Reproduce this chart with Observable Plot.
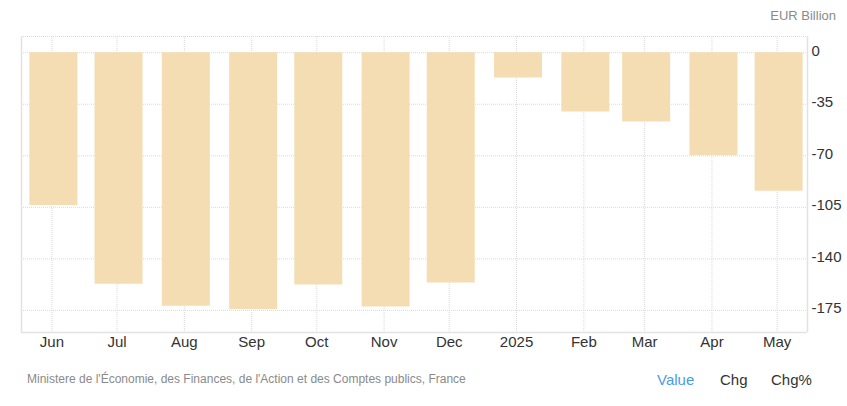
<!DOCTYPE html>
<html>
<head>
<meta charset="utf-8">
<script src="https://cdn.jsdelivr.net/npm/d3@7"></script>
<script src="https://cdn.jsdelivr.net/npm/@observablehq/plot@0.6"></script>
<style>
  html, body { margin: 0; padding: 0; background: #fff; }
  #wrap { position: relative; width: 847px; height: 406px; font-family: "Liberation Sans", Arial, sans-serif; overflow: hidden; }
  #chart { position: absolute; left: 0; top: 0; }
  .t { position: absolute; white-space: nowrap; line-height: 1; }
</style>
</head>
<body>
<div id="wrap">
  <div id="chart"></div>
  <div class="t" style="right:11px; top:9px; font-size:13px; color:#8a8a8a;">EUR Billion</div>
  <div class="t" style="left:27px; top:373px; font-size:12px; color:#8a8a8a;">Ministere de l'Économie, des Finances, de l'Action et des Comptes publics, France</div>
  <div class="t" style="left:657px; top:372px; font-size:15px; color:#4a9ce6;">Value</div>
  <div class="t" style="left:720px; top:372px; font-size:15px; color:#333;">Chg</div>
  <div class="t" style="left:771px; top:372px; font-size:15px; color:#333;">Chg%</div>
</div>
<script>
const months = ["2024-06-01","2024-07-01","2024-08-01","2024-09-01","2024-10-01","2024-11-01","2024-12-01","2025-01-01","2025-02-01","2025-03-01","2025-04-01","2025-05-01"];
const values = [-103.7, -157.3, -172.2, -174.3, -157.8, -172.7, -156.4, -17.2, -40.3, -47.1, -69.8, -94.0];
const yTicks = [0, -35, -70, -105, -140, -175];
const xDomain = ["2024-05-18", "2025-05-15"];
const yDomain = [-190, 11];

const dates = months.map(d => new Date(d + "T00:00:00Z"));
const data = dates.map((d, i) => ({date: d, value: values[i]}));
const xd = xDomain.map(d => new Date(d + "T00:00:00Z"));
const monthFmt = d3.utcFormat("%b");
const tickFmt = d => d.getUTCMonth() === 0 ? String(d.getUTCFullYear()) : monthFmt(d);

const grid = {stroke: "#d9d9d9", strokeOpacity: 1, strokeDasharray: "1,1"};
const plot = Plot.plot({
  width: 847,
  height: 360,
  marginTop: 36,
  marginBottom: 28,
  marginLeft: 21,
  marginRight: 40,
  style: {fontFamily: "Liberation Sans, Arial, sans-serif", background: "transparent"},
  x: {type: "utc", domain: xd, label: null},
  y: {domain: yDomain, label: null},
  marks: [
    Plot.gridY({ticks: yTicks, ...grid}),
    Plot.ruleY([yDomain[1]], {...grid}),
    Plot.gridX({ticks: dates, ...grid}),
    Plot.ruleX(data, {x: "date", y1: 0, y2: "value", stroke: "#f4ddb3", strokeWidth: 48, dx: 1.5}),
    Plot.ruleX([xd[0]], {stroke: "#e2e2e2", strokeWidth: 1.5}),
    Plot.ruleX([xd[1]], {stroke: "#e2e2e2", strokeWidth: 1.5}),
    Plot.ruleY([yDomain[0]], {stroke: "#e2e2e2", strokeWidth: 1.5}),
    Plot.axisX({ticks: dates, tickFormat: tickFmt, tickSize: 0, tickPadding: 4, fontSize: 15, fill: "#333", label: null}),
    Plot.axisY({anchor: "right", ticks: yTicks, tickFormat: d => String(d), tickSize: 0, tickPadding: 4, dy: -2, fontSize: 15, fill: "#333", label: null})
  ]
});
document.getElementById("chart").appendChild(plot);
</script>
</body>
</html>
